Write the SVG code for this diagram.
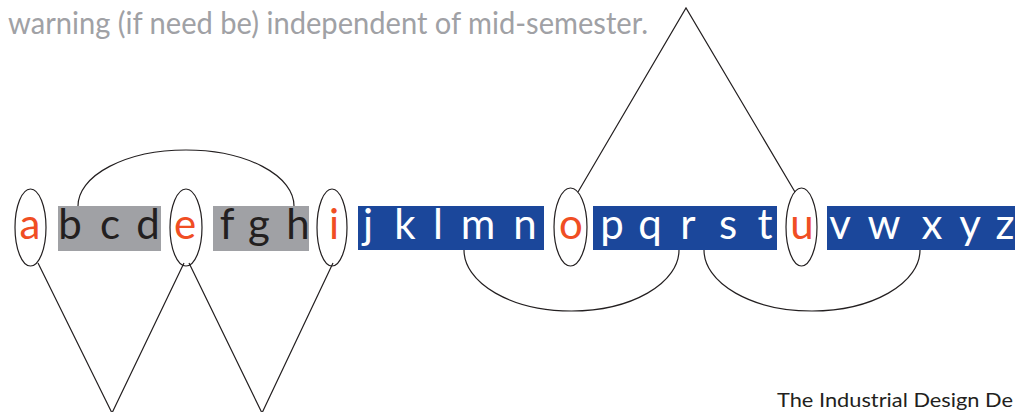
<svg xmlns="http://www.w3.org/2000/svg" width="1015" height="412" viewBox="0 0 1015 412">
<style>
.bg{fill:#ffffff}
.gray{fill:#a0a1a5}
.blue{fill:#1b479b}
.L{font-family:Lato,"Open Sans","Liberation Sans",sans-serif;font-size:42px;text-anchor:middle}
.dk{fill:#231f20}
.wh{fill:#ffffff}
.or{fill:#f04e23}
.ell{fill:none;stroke:#231f20;stroke-width:1.2}
.con{fill:none;stroke:#231f20;stroke-width:1.2}
.cap{font-family:Lato,"Open Sans","Liberation Sans",sans-serif;font-size:30px;fill:#a0a1a5}
.foot{font-family:Lato,"Open Sans","Liberation Sans",sans-serif;font-size:20px;fill:#231f20}
</style>
<rect class="bg" x="0" y="0" width="1015" height="412"/>
<text class="cap" x="8" y="34" textLength="640" lengthAdjust="spacingAndGlyphs">warning (if need be) independent of mid-semester.</text>

<g id="connectors">
<path class="con" d="M78,206 A108,56 0 0 1 294,206"/>
<path class="con" d="M464,250 A107.5,61 0 0 0 679,250"/>
<path class="con" d="M704,250 A108,61 0 0 0 920,250"/>
<path class="con" d="M578,192 L686,8 L795,192"/>
<path class="con" d="M38,263 L112,413 L184,263"/>
<path class="con" d="M189,263 L262,413 L333,263"/>
</g>

<g id="group-bcd"><rect class="gray" x="58" y="206" width="103" height="45"/>
<text class="L dk" x="70" y="239">b</text><text class="L dk" x="110" y="239">c</text><text class="L dk" x="148" y="239">d</text></g>
<g id="group-fgh"><rect class="gray" x="213" y="206" width="96" height="45"/>
<text class="L dk" x="227" y="239">f</text><text class="L dk" x="259" y="239">g</text><text class="L dk" x="298" y="239">h</text></g>
<g id="group-jklmn"><rect class="blue" x="358" y="206" width="186" height="44"/>
<text class="L wh" x="368" y="239">j</text><text class="L wh" x="405" y="239">k</text><text class="L wh" x="438" y="239">l</text><text class="L wh" x="478" y="239">m</text><text class="L wh" x="525" y="239">n</text></g>
<g id="group-pqrst"><rect class="blue" x="593" y="206" width="184" height="44"/>
<text class="L wh" x="612" y="239">p</text><text class="L wh" x="650" y="239">q</text><text class="L wh" x="688" y="239">r</text><text class="L wh" x="728" y="239">s</text><text class="L wh" x="765" y="239">t</text></g>
<g id="group-vwxyz"><rect class="blue" x="827" y="206" width="190" height="44"/>
<text class="L wh" x="840" y="239">v</text><text class="L wh" x="884" y="239">w</text><text class="L wh" x="932" y="239">x</text><text class="L wh" x="970" y="239">y</text><text class="L wh" x="1005" y="239">z</text></g>

<g id="node-a"><ellipse class="ell" cx="30.5" cy="227.5" rx="15.5" ry="38.5"/><text class="L or" x="30" y="239">a</text></g>
<g id="node-e"><ellipse class="ell" cx="186" cy="227.5" rx="16" ry="38.5"/><text class="L or" x="185" y="239">e</text></g>
<g id="node-i"><ellipse class="ell" cx="332" cy="227.5" rx="15" ry="38.5"/><text class="L or" x="334" y="239">i</text></g>
<g id="node-o"><ellipse class="ell" cx="570.5" cy="227" rx="16.5" ry="39"/><text class="L or" x="571" y="239">o</text></g>
<g id="node-u"><ellipse class="ell" cx="801.5" cy="227" rx="15.5" ry="39"/><text class="L or" x="802" y="239">u</text></g>

<text class="foot" x="777" y="407" textLength="236" lengthAdjust="spacingAndGlyphs">The Industrial Design De</text>
</svg>
